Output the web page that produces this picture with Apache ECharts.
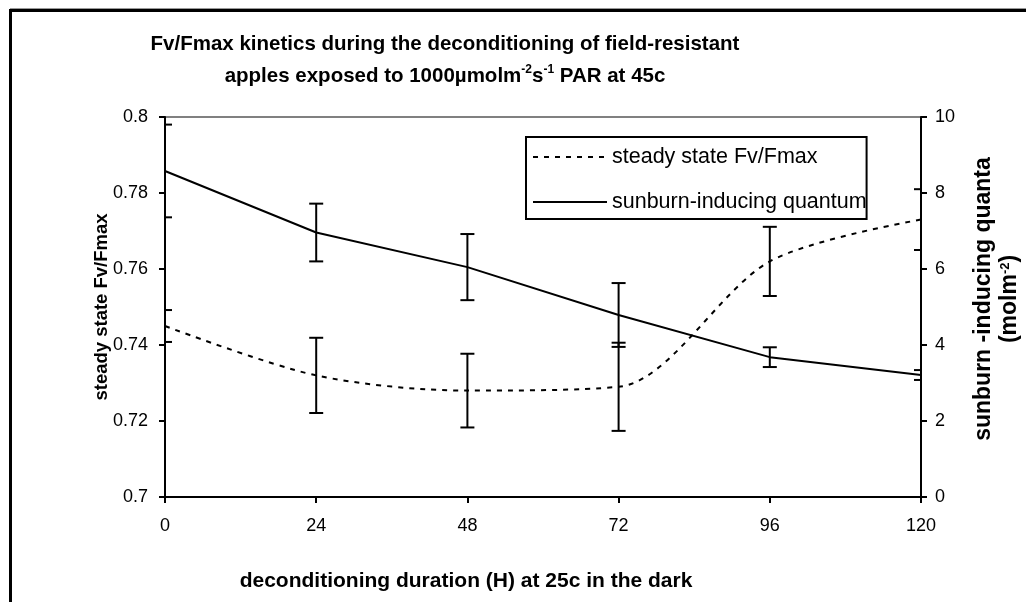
<!DOCTYPE html>
<html lang="en">

<head>
  <meta charset="UTF-8">
  <title>Fv/Fmax kinetics</title>
  <script src="https://cdn.jsdelivr.net/npm/echarts@6.0.0/dist/echarts.min.js"></script>
  <style>
    html,
    body {
      margin: 0;
      padding: 0;
      background-color: #fff;
    }

    #chart {
      width: 1026px;
      height: 602px;
    }
  </style>
</head>

<body>
  <div id="chart"></div>
  <script>
    // hours of deconditioning
    const hours = [0, 24, 48, 72, 96, 120];
    // left axis: steady state Fv/Fmax and its error
    const fvFmax = [0.745, 0.732, 0.728, 0.729, 0.762, 0.773];
    const fvFmaxErr = [0.0042, 0.0099, 0.0097, 0.0116, 0.0091, 0.008];
    // right axis: sunburn-inducing quanta and its error
    const quanta = [8.58, 6.96, 6.05, 4.79, 3.68, 3.21];
    const quantaErr = [1.22, 0.76, 0.87, 0.84, 0.26, 0.13];

    const fontName = 'Liberation Sans, Arial, sans-serif';

    function errorBar(params, api) {
      const x = api.value(0);
      const hi = api.coord([x, api.value(2)]);
      const lo = api.coord([x, api.value(1)]);
      const w = 7;
      const style = { stroke: '#000', lineWidth: 2 };
      return {
        type: 'group',
        children: [
          { type: 'line', shape: { x1: hi[0], y1: hi[1], x2: lo[0], y2: lo[1] }, style: style },
          { type: 'line', shape: { x1: hi[0] - w, y1: hi[1], x2: hi[0] + w, y2: hi[1] }, style: style },
          { type: 'line', shape: { x1: lo[0] - w, y1: lo[1], x2: lo[0] + w, y2: lo[1] }, style: style }
        ]
      };
    }

    const myChart = echarts.init(document.getElementById('chart'));
    const axisLine = { show: true, lineStyle: { color: '#000', width: 2 } };
    const axisTick = { show: true, length: 6, lineStyle: { color: '#000', width: 2 } };
    const boldText = { fontFamily: fontName, fontSize: 20, fontWeight: 'bold', fill: '#000' };

    const option = {
      animation: false,
      textStyle: { fontFamily: fontName },
      grid: {
        left: 165,
        right: 105,
        top: 117,
        bottom: 105,
        show: true,
        borderColor: '#808080',
        borderWidth: 2
      },
      legend: {
        left: 526,
        top: 137,
        orient: 'vertical',
        data: ['steady state Fv/Fmax', 'sunburn-inducing quantum'],
        itemWidth: 74,
        itemHeight: 22,
        itemGap: 23,
        padding: [9, 0, 6, 6],
        borderColor: '#000',
        borderWidth: 2,
        itemStyle: { opacity: 0 },
        textStyle: { fontSize: 21.5, color: '#000', fontFamily: fontName }
      },
      xAxis: {
        type: 'value',
        min: 0,
        max: 120,
        interval: 24,
        axisLine: axisLine,
        axisTick: axisTick,
        splitLine: { show: false },
        axisLabel: { margin: 20, fontSize: 18, color: '#000' }
      },
      yAxis: [{
        type: 'value',
        min: 0.7,
        max: 0.8,
        interval: 0.02,
        position: 'left',
        axisLine: axisLine,
        axisTick: axisTick,
        splitLine: { show: false },
        axisLabel: { margin: 17, fontSize: 18, color: '#000' }
      }, {
        type: 'value',
        min: 0,
        max: 10,
        interval: 2,
        position: 'right',
        axisLine: axisLine,
        axisTick: axisTick,
        splitLine: { show: false },
        axisLabel: { margin: 14, fontSize: 18, color: '#000' }
      }],
      series: [{
        name: 'steady state Fv/Fmax',
        type: 'line',
        yAxisIndex: 0,
        data: hours.map((h, i) => [h, fvFmax[i]]),
        symbol: 'none',
        smooth: 0.3,
        lineStyle: { color: '#000', width: 2, type: [5, 6] },
        itemStyle: { color: '#000' }
      }, {
        name: 'sunburn-inducing quantum',
        type: 'line',
        yAxisIndex: 1,
        data: hours.map((h, i) => [h, quanta[i]]),
        symbol: 'none',
        lineStyle: { color: '#000', width: 2 },
        itemStyle: { color: '#000' }
      }, {
        type: 'custom',
        yAxisIndex: 0,
        clip: true,
        renderItem: errorBar,
        encode: { x: 0, y: [1, 2] },
        data: hours.map((h, i) => [h, fvFmax[i] - fvFmaxErr[i], fvFmax[i] + fvFmaxErr[i]]),
        z: 3
      }, {
        type: 'custom',
        yAxisIndex: 1,
        clip: true,
        renderItem: errorBar,
        encode: { x: 0, y: [1, 2] },
        data: hours.map((h, i) => [h, quanta[i] - quantaErr[i], quanta[i] + quantaErr[i]]),
        z: 3
      }],
      graphic: [
        // outer frame (left and top only)
        { type: 'line', shape: { x1: 10, y1: 8.5, x2: 1026, y2: 8.5 }, style: { stroke: '#999', lineWidth: 1 } },
        { type: 'line', shape: { x1: 10.5, y1: 10, x2: 10.5, y2: 602 }, style: { stroke: '#000', lineWidth: 3 } },
        { type: 'line', shape: { x1: 9, y1: 10.5, x2: 1026, y2: 10.5 }, style: { stroke: '#000', lineWidth: 3 } },
        {
          type: 'text',
          x: 445,
          y: 60,
          style: Object.assign({}, boldText, {
            text: '{t|Fv/Fmax kinetics during the deconditioning of field-resistant}\n{t|apples exposed to 1000µmolm}{s|-2}{t|s}{s|-1}{t| PAR at 45c}',
            fontSize: 20.5,
            align: 'center',
            verticalAlign: 'middle',
            lineHeight: 32,
            rich: {
              t: Object.assign({}, boldText, { fontSize: 20.5, lineHeight: 32 }),
              s: Object.assign({}, boldText, { fontSize: 12, lineHeight: 32, padding: [0, 0, 12, 0] })
            }
          })
        },
        {
          type: 'text',
          x: 466,
          y: 581,
          style: Object.assign({}, boldText, {
            text: 'deconditioning duration (H) at 25c in the dark',
            fontSize: 21,
            align: 'center',
            verticalAlign: 'middle'
          })
        },
        {
          type: 'text',
          x: 102,
          y: 307,
          rotation: Math.PI / 2,
          style: Object.assign({}, boldText, {
            text: 'steady state Fv/Fmax',
            fontSize: 18.5,
            align: 'center',
            verticalAlign: 'middle'
          })
        },
        {
          type: 'text',
          x: 997,
          y: 299,
          rotation: Math.PI / 2,
          style: Object.assign({}, boldText, {
            text: '{t|sunburn -inducing quanta}\n{t|(molm}{s|-2}{t|)}',
            fontSize: 23,
            align: 'center',
            verticalAlign: 'middle',
            rich: {
              t: Object.assign({}, boldText, { fontSize: 23, lineHeight: 26 }),
              s: Object.assign({}, boldText, { fontSize: 13, lineHeight: 26, padding: [0, 0, 10, 0] })
            }
          })
        }
      ]
    };
    myChart.setOption(option);
  </script>
</body>

</html>
